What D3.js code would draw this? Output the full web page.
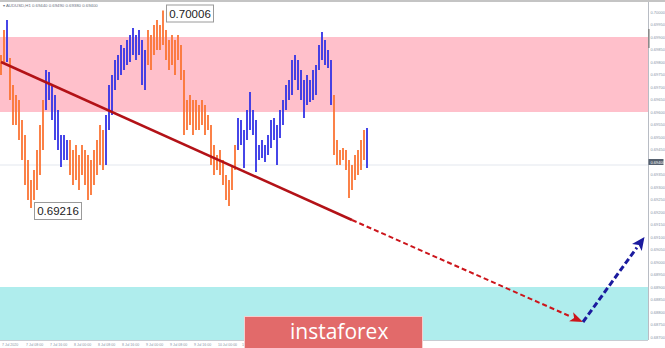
<!DOCTYPE html>
<html>
<head>
<meta charset="utf-8">
<script src="https://cdn.jsdelivr.net/npm/d3@7"></script>
<style>
  body { margin: 0; background: #fff; }
  svg { display: block; font-family: "Liberation Sans", Arial, sans-serif; }
</style>
</head>
<body>
<div id="chart"></div>
<script>
//=========Data=========//
// hourly bars, high / low price
var barHigh = [
  0.69828, 0.69928, 0.69968, 0.69816, 0.69708, 0.69668, 0.69648, 0.69568, 0.69508, 0.69408,
  0.69328, 0.69368, 0.69448, 0.69548, 0.69648, 0.69768, 0.69760, 0.69708, 0.69668, 0.69608,
  0.69508, 0.69508, 0.69488, 0.69488, 0.69448, 0.69468, 0.69428, 0.69468, 0.69448, 0.69428,
  0.69408, 0.69448, 0.69488, 0.69548, 0.69528, 0.69588, 0.69708, 0.69748, 0.69808, 0.69828,
  0.69868, 0.69856, 0.69888, 0.69908, 0.69936, 0.69908, 0.69928, 0.69888, 0.69848, 0.69928,
  0.69908, 0.69948, 0.69968, 0.69948, 0.70006, 0.69928, 0.69888, 0.69908, 0.69888, 0.69908,
  0.69868, 0.69768, 0.69648, 0.69668, 0.69648, 0.69648, 0.69628, 0.69648, 0.69628, 0.69588,
  0.69548, 0.69468, 0.69428, 0.69448, 0.69408, 0.69348, 0.69328, 0.69388, 0.69468, 0.69576,
  0.69568, 0.69528, 0.69608, 0.69680, 0.69608, 0.69568, 0.69468, 0.69488, 0.69468, 0.69508,
  0.69568, 0.69576, 0.69548, 0.69608, 0.69648, 0.69708, 0.69728, 0.69808, 0.69828, 0.69808,
  0.69768, 0.69728, 0.69748, 0.69728, 0.69768, 0.69788, 0.69868, 0.69920, 0.69888, 0.69848,
  0.69808, 0.69668, 0.69488, 0.69448, 0.69456, 0.69448, 0.69408, 0.69388, 0.69428, 0.69448,
  0.69488, 0.69528, 0.69536
];
var barLow = [
  0.69748, 0.69800, 0.69800, 0.69648, 0.69548, 0.69548, 0.69488, 0.69408, 0.69308, 0.69248,
  0.69216, 0.69248, 0.69288, 0.69348, 0.69448, 0.69608, 0.69648, 0.69568, 0.69488, 0.69448,
  0.69380, 0.69408, 0.69408, 0.69348, 0.69308, 0.69328, 0.69288, 0.69348, 0.69308, 0.69248,
  0.69268, 0.69308, 0.69348, 0.69388, 0.69368, 0.69388, 0.69528, 0.69588, 0.69688, 0.69728,
  0.69748, 0.69768, 0.69788, 0.69800, 0.69828, 0.69808, 0.69828, 0.69708, 0.69688, 0.69788,
  0.69768, 0.69828, 0.69848, 0.69848, 0.69868, 0.69808, 0.69768, 0.69788, 0.69748, 0.69808,
  0.69728, 0.69508, 0.69528, 0.69548, 0.69508, 0.69528, 0.69528, 0.69548, 0.69508, 0.69528,
  0.69388, 0.69348, 0.69368, 0.69348, 0.69308, 0.69248, 0.69224, 0.69288, 0.69368, 0.69448,
  0.69468, 0.69376, 0.69488, 0.69528, 0.69508, 0.69360, 0.69408, 0.69416, 0.69400, 0.69428,
  0.69456, 0.69488, 0.69388, 0.69496, 0.69548, 0.69608, 0.69648, 0.69668, 0.69728, 0.69688,
  0.69648, 0.69576, 0.69628, 0.69640, 0.69648, 0.69668, 0.69768, 0.69808, 0.69788, 0.69776,
  0.69628, 0.69428, 0.69388, 0.69388, 0.69408, 0.69368, 0.69256, 0.69288, 0.69328, 0.69348,
  0.69368, 0.69408, 0.69376
];
// first bar of each zigzag wave (colours alternate)
var waveStarts = [0, 2, 3, 15, 23, 35, 49, 79, 111, 122];

// resistance / support zones
var zoneTop = [0.69900, 0.68900];
var zoneBottom = [0.69600, 0.68600];

// trend line and forecast (bar index, price)
var trendBars = [0, 117, 194];
var trendPrices = [0.69800, 0.69168, 0.68760];
var forecastBars = [194, 214.5];
var forecastPrices = [0.68760, 0.69100];

// marked extremes
var extremeBars = [54, 10];
var extremePrices = [0.70006, 0.69216];

var lastPrice = 0.69400;
var priceTicks = d3.range(0, 27).map((k) => +(0.70000 - k * 0.0005).toFixed(5));
var timeLabels = [
  "7 Jul 2020", "7 Jul 08:00", "7 Jul 16:00", "8 Jul 00:00", "8 Jul 08:00",
  "8 Jul 16:00", "9 Jul 00:00", "9 Jul 08:00", "9 Jul 16:00", "10 Jul 00:00",
  "10 Jul 08:00"
];

//=========SVG Area=========//
var svgWidth = 665;
var svgHeight = 348;
var plotRight = 648;
var plotBottom = 340;

var svg = d3
  .select("#chart")
  .append("svg")
  .attr("width", svgWidth)
  .attr("height", svgHeight);

var xScale = d3.scaleLinear().domain([0, 216]).range([1, 649]);
var yScale = d3.scaleLinear().domain([0.70000, 0.68700]).range([12, 337]);

svg.append("defs").append("clipPath").attr("id", "plot")
  .append("rect").attr("x", 0).attr("y", 2).attr("width", plotRight).attr("height", plotBottom - 2);

var plot = svg.append("g").attr("clip-path", "url(#plot)");

// zones
var zoneColors = ["#ffc0cb", "#afeded"];
plot.selectAll("rect.zone")
  .data(zoneTop)
  .enter()
  .append("rect")
  .attr("class", "zone")
  .attr("x", 0)
  .attr("width", plotRight)
  .attr("y", (d) => yScale(d))
  .attr("height", (d, i) => yScale(zoneBottom[i]) - yScale(d))
  .attr("fill", (d, i) => zoneColors[i]);

// last price line
plot.append("line")
  .attr("x1", 0).attr("x2", plotRight)
  .attr("y1", yScale(0.69390) + 0.5).attr("y2", yScale(0.69390) + 0.5)
  .attr("stroke", "#e3e7ee").attr("stroke-width", 1);

// bars
function waveOf(i) {
  var w = 0;
  waveStarts.forEach((s, k) => { if (i >= s) w = k; });
  return w;
}
plot.selectAll("line.bar")
  .data(barHigh)
  .enter()
  .append("line")
  .attr("class", "bar")
  .attr("x1", (d, i) => xScale(i))
  .attr("x2", (d, i) => xScale(i))
  .attr("y1", (d) => yScale(d))
  .attr("y2", (d, i) => yScale(barLow[i]))
  .attr("stroke", (d, i) => (waveOf(i) % 2 === 0 ? "#fb7434" : "#3232e6"))
  .attr("stroke-width", 1.8);

// trend line
var solid = d3.line().x((d) => xScale(d[0])).y((d) => yScale(d[1]));
plot.append("path")
  .attr("d", solid([[trendBars[0], trendPrices[0]], [trendBars[1], trendPrices[1]]]))
  .attr("fill", "none").attr("stroke", "#b31217").attr("stroke-width", 2.5);

function arrow(g, x0, y0, x1, y1, color, width, dash, len, half) {
  var ang = Math.atan2(y1 - y0, x1 - x0);
  var bx = x1 - len * Math.cos(ang), by = y1 - len * Math.sin(ang);
  g.append("line")
    .attr("x1", x0).attr("y1", y0).attr("x2", bx).attr("y2", by)
    .attr("stroke", color).attr("stroke-width", width).attr("stroke-dasharray", dash);
  var px = -Math.sin(ang) * half, py = Math.cos(ang) * half;
  g.append("polygon")
    .attr("points", [[x1, y1], [bx + px, by + py], [bx + len * 0.25 * Math.cos(ang), by + len * 0.25 * Math.sin(ang)], [bx - px, by - py]].join(" "))
    .attr("fill", color);
}
arrow(plot, xScale(trendBars[1]), yScale(trendPrices[1]), xScale(trendBars[2]), yScale(trendPrices[2]),
  "#cc151b", 2, "5,3", 13, 5);
arrow(plot, xScale(forecastBars[0]), yScale(forecastPrices[0]), xScale(forecastBars[1]), yScale(forecastPrices[1]),
  "#1b1b9e", 3, "6,3", 13, 6);

// extreme labels
extremePrices.forEach(function (p, i) {
  var lx = xScale(extremeBars[i]) + 3;
  var ly = yScale(p) - 6;
  var g = svg.append("g").attr("transform", `translate(${lx}, ${ly})`);
  g.append("rect").attr("x", 0.5).attr("y", 0.5).attr("width", 47).attr("height", 17)
    .attr("fill", "#fff").attr("stroke", "#9a9a9a");
  g.append("text").attr("x", 24).attr("y", 13).attr("text-anchor", "middle")
    .attr("font-size", "11.5px").attr("fill", "#222").text(d3.format(".5f")(p));
});

//=========Frame and axes=========//
svg.append("line").attr("x1", 0).attr("x2", svgWidth).attr("y1", 1).attr("y2", 1)
  .attr("stroke", "#c4c4c4").attr("stroke-width", 2);
svg.append("line").attr("x1", plotRight + 0.5).attr("x2", plotRight + 0.5).attr("y1", 2).attr("y2", plotBottom)
  .attr("stroke", "#b8bcc4").attr("stroke-width", 1);
svg.append("line").attr("x1", 0).attr("x2", plotRight).attr("y1", plotBottom + 0.5).attr("y2", plotBottom + 0.5)
  .attr("stroke", "#c8ccd2").attr("stroke-width", 1);
svg.append("rect").attr("x", plotRight).attr("y", 29).attr("width", 1.6).attr("height", 19).attr("fill", "#8a8a8a");

svg.append("text").attr("x", 3).attr("y", 7).attr("font-size", "4.3px").attr("fill", "#6a7280")
  .text("\u25BE AUDUSD,H1  0.69440 0.69490 0.69380 0.69400");

var yAxis = svg.append("g").attr("transform", `translate(${plotRight + 2.5}, 0)`);
yAxis.selectAll("text")
  .data(priceTicks.filter((t) => Math.abs(t - lastPrice) > 1e-6))
  .enter()
  .append("text")
  .attr("x", 0)
  .attr("y", (d) => yScale(d) + 1.5)
  .attr("font-size", "4px")
  .attr("fill", "#8794a6")
  .text((d) => d3.format(".5f")(d));
yAxis.append("rect").attr("x", -2).attr("y", yScale(lastPrice) - 3).attr("width", 15).attr("height", 6)
  .attr("fill", "#56616f");
yAxis.append("text").attr("x", 0).attr("y", yScale(lastPrice) + 1.5).attr("font-size", "4px")
  .attr("fill", "#fff").text(d3.format(".5f")(lastPrice));

svg.append("g").selectAll("text")
  .data(timeLabels)
  .enter()
  .append("text")
  .attr("x", (d, i) => xScale(i * 8) + 1)
  .attr("y", 346)
  .attr("font-size", "3.5px")
  .attr("fill", "#8794a6")
  .text((d) => d);

//=========Watermark=========//
var wm = svg.append("g");
wm.append("rect").attr("x", 244.5).attr("y", 316.5).attr("width", 178).attr("height", 34)
  .attr("fill", "#e26a6a").attr("stroke", "#f4d0d0").attr("stroke-width", 1);
wm.append("text").attr("x", 290).attr("y", 339).attr("font-family", "'Open Sans', sans-serif")
  .attr("font-size", "21px").attr("fill", "#fff").text("instaforex");
</script>
</body>
</html>
